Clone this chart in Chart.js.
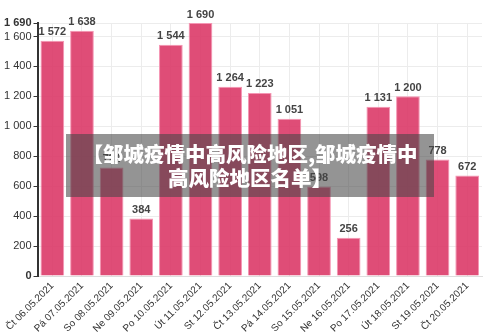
<!DOCTYPE html>
<html><head><meta charset="utf-8">
<script src="https://cdn.jsdelivr.net/npm/chart.js@4/dist/chart.umd.min.js"></script>
<style>
html,body{margin:0;padding:0;background:#fff;}
#wrap{position:relative;width:500px;height:332px;}
#overlay{position:absolute;left:66px;top:134px;width:368px;height:63px;background:rgba(70,70,70,0.58);color:#fff;
font-family:"Noto Sans CJK SC",sans-serif;font-weight:900;font-size:20.5px;line-height:24px;text-align:center;box-sizing:border-box;padding-top:7px;}
</style></head><body>
<div id="wrap"><canvas id="c" width="500" height="332"></canvas>
<div id="overlay">【邹城疫情中高风险地区,邹城疫情中<br>高风险地区名单】</div></div>
<script>
const categories=["Čt 06.05.2021","Pá 07.05.2021","So 08.05.2021","Ne 09.05.2021","Po 10.05.2021","Út 11.05.2021","St 12.05.2021","Čt 13.05.2021","Pá 14.05.2021","So 15.05.2021","Ne 16.05.2021","Po 17.05.2021","Út 18.05.2021","St 19.05.2021","Čt 20.05.2021"];
const values=[1572,1638,724,384,1544,1690,1264,1223,1051,598,256,1131,1200,778,672];
const yTicks=[0,200,400,600,800,1000,1200,1400,1600,1690];
const fmt=v=>String(v).replace(/\B(?=(\d{3})+(?!\d))/g,' ');
const labelPlugin={id:'lbl',afterDatasetsDraw(ch){const c=ch.ctx;const m=ch.getDatasetMeta(0);c.save();c.font='bold 11px "Liberation Sans", Arial, sans-serif';c.fillStyle='#444';c.textAlign='center';c.textBaseline='bottom';m.data.forEach((b,i)=>{c.fillText(fmt(values[i]),b.x,b.y-3);});c.restore();}};
new Chart(document.getElementById('c'),{type:'bar',
data:{labels:categories,datasets:[{data:values,backgroundColor:'rgba(220,58,104,0.9)',borderColor:'rgba(245,150,180,1)',borderWidth:1,barPercentage:0.8,categoryPercentage:1.0}]},
options:{responsive:false,animation:false,devicePixelRatio:1,
layout:{padding:{top:23,right:18,left:2,bottom:0}},
plugins:{legend:{display:false},tooltip:{enabled:false}},
scales:{
x:{offset:true,grid:{offset:false,color:'#ececec',drawTicks:false},border:{color:'#ddd'},afterFit:s=>{s.height=56;},
ticks:{maxRotation:45,minRotation:45,color:'#333',font:{size:10,family:'"Liberation Sans", Arial, sans-serif'},padding:4}},
y:{min:0,max:1690,afterBuildTicks:a=>{a.ticks=yTicks.map(v=>({value:v}));},
grid:{color:'#ececec',tickLength:4,tickColor:'#333'},border:{color:'#333',width:2},
ticks:{color:'#333',padding:2,callback:v=>fmt(v),font:ctx=>({size:11,family:'"Liberation Sans", Arial, sans-serif',weight:(ctx.tick&&(ctx.tick.value===1690||ctx.tick.value===0))?'bold':'normal'})}}
}},plugins:[labelPlugin]});
</script></body></html>
